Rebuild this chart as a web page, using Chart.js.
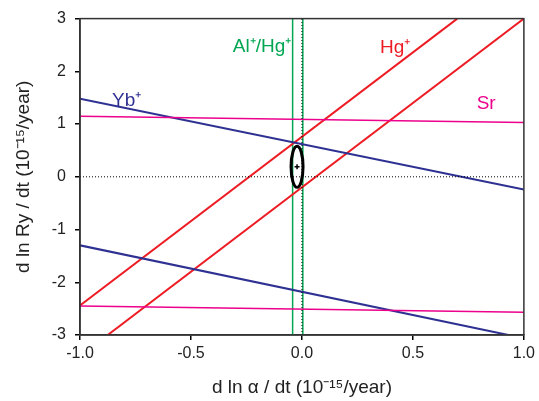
<!DOCTYPE html>
<html>
<head>
<meta charset="utf-8">
<script src="https://cdn.jsdelivr.net/npm/chart.js@4"></script>
<style>
  html, body { margin: 0; padding: 0; background: #fff; }
  #wrap { width: 539px; height: 401px; }
</style>
</head>
<body>
<div id="wrap"><canvas id="chart" width="539" height="401"></canvas></div>
<script>
// line end points (x = d ln alpha/dt, y = d ln Ry/dt)
var ybUpperX = [-1.0, 1.0];
var ybUpperY = [1.48, -0.24];
var ybLowerX = [-1.0, 0.93];
var ybLowerY = [-1.30, -3.0];
var srUpperX = [-1.0, 1.0];
var srUpperY = [1.15, 1.03];
var srLowerX = [-1.0, 1.0];
var srLowerY = [-2.45, -2.57];
var hgUpperX = [-1.0, 0.70];
var hgUpperY = [-2.44, 3.0];
var hgLowerX = [-0.875, 1.0];
var hgLowerY = [-3.0, 3.0];
var alHgX = [-0.042, 0.004];
var alHgY = [-3.0, 3.0];

// combined result: centre and half widths of the ellipse
var resultCenter = [-0.022, 0.19];
var resultHalf = [0.027, 0.39];

var xTicks = [-1.0, -0.5, 0.0, 0.5, 1.0];
var yTicks = [-3, -2, -1, 0, 1, 2, 3];

var labels = [
  {text: 'Al\u207A/Hg\u207A', x: -0.18, y: 2.46, color: '#00a651'},
  {text: 'Hg\u207A', x: 0.42, y: 2.44, color: '#ed1c24'},
  {text: 'Yb\u207A', x: -0.79, y: 1.45, color: '#2e3192'},
  {text: 'Sr', x: 0.83, y: 1.39, color: '#ec008c'}
];

var BLUE = '#2e3192', RED = '#ed1c24', PINK = '#ec008c', GREEN = '#00a651';
var FONT = '"Liberation Sans", Arial, sans-serif';

function pts(xs, ys) {
  return xs.map(function(x, i) { return {x: x, y: ys[i]}; });
}

function line(xs, ys, color, width) {
  return {
    data: pts(xs, ys),
    showLine: true,
    borderColor: color,
    borderWidth: width || 1.5,
    pointRadius: 0,
    fill: false
  };
}

var datasets = [
  Object.assign(line([-1, 1], [0, 0], '#000', 1), {borderDash: [1, 2]}),
  Object.assign(line([0, 0], [-3, 3], '#000', 1), {borderDash: [1, 2]}),
  line(srUpperX, srUpperY, PINK),
  line(srLowerX, srLowerY, PINK),
  line(ybUpperX, ybUpperY, BLUE, 2),
  line(ybLowerX, ybLowerY, BLUE, 2),
  line(hgUpperX, hgUpperY, RED, 2),
  line(hgLowerX, hgLowerY, RED, 2),
  line([alHgX[0], alHgX[0]], alHgY, GREEN),
  line([alHgX[1], alHgX[1]], alHgY, GREEN),
  {
    data: [{x: resultCenter[0], y: resultCenter[1]}],
    pointStyle: 'cross',
    pointRadius: 2.5,
    borderColor: '#000',
    borderWidth: 1.5,
    showLine: false
  }
];

var extras = {
  id: 'extras',
  afterDatasetsDraw: function(chart) {
    var ctx = chart.ctx, xs = chart.scales.x, ys = chart.scales.y;
    var a = chart.chartArea;
    // ellipse
    var cx = xs.getPixelForValue(resultCenter[0]);
    var cy = ys.getPixelForValue(resultCenter[1]);
    var rx = Math.abs(xs.getPixelForValue(resultCenter[0] + resultHalf[0]) - cx);
    var ry = Math.abs(ys.getPixelForValue(resultCenter[1] + resultHalf[1]) - cy);
    ctx.save();
    ctx.beginPath();
    ctx.ellipse(cx, cy, rx, ry, 0, 0, Math.PI * 2);
    ctx.lineWidth = 3;
    ctx.strokeStyle = '#000';
    ctx.stroke();
    // frame
    ctx.lineWidth = 1.5;
    ctx.strokeStyle = '#333';
    ctx.strokeRect(a.left, a.top, a.right - a.left, a.bottom - a.top);
    // labels
    ctx.font = '19px ' + FONT;
    ctx.textAlign = 'center';
    ctx.textBaseline = 'middle';
    labels.forEach(function(l) {
      ctx.fillStyle = l.color;
      ctx.fillText(l.text, xs.getPixelForValue(l.x), ys.getPixelForValue(l.y));
    });
    ctx.restore();
  }
};

new Chart('chart', {
  type: 'scatter',
  data: {datasets: datasets},
  options: {
    responsive: false,
    animation: false,
    events: [],
    layout: {padding: {top: 14, right: 13, left: 0, bottom: 0}},
    plugins: {legend: {display: false}, tooltip: {enabled: false}},
    scales: {
      x: {
        type: 'linear',
        min: -1, max: 1,
        afterFit: function(s) { s.height = 66; },
        afterBuildTicks: function(s) { s.ticks = xTicks.map(function(v) { return {value: v}; }); },
        grid: {drawOnChartArea: false, drawTicks: true, tickLength: 5, color: '#000', lineWidth: 1.5},
        border: {color: '#333', width: 1.5},
        ticks: {
          color: '#222',
          padding: 4,
          font: {family: FONT, size: 16},
          callback: function(v) { return v.toFixed(1); }
        },
        title: {
          display: true,
          text: 'd ln \u03B1 / dt (10\u207B\u00B9\u2075/year)',
          color: '#222',
          padding: {top: 4, bottom: 2},
          font: {family: FONT, size: 19}
        }
      },
      y: {
        type: 'linear',
        min: -3, max: 3,
        afterFit: function(s) { s.width = 80; },
        afterBuildTicks: function(s) { s.ticks = yTicks.map(function(v) { return {value: v}; }); },
        grid: {drawOnChartArea: false, drawTicks: true, tickLength: 5, color: '#000', lineWidth: 1.5},
        border: {color: '#333', width: 1.5},
        ticks: {
          color: '#222',
          padding: 9,
          font: {family: FONT, size: 16}
        },
        title: {
          display: true,
          text: 'd ln Ry / dt (10\u207B\u00B9\u2075/year)',
          color: '#222',
          padding: {top: 12, bottom: 0},
          font: {family: FONT, size: 19}
        }
      }
    }
  },
  plugins: [extras]
});
</script>
</body>
</html>
